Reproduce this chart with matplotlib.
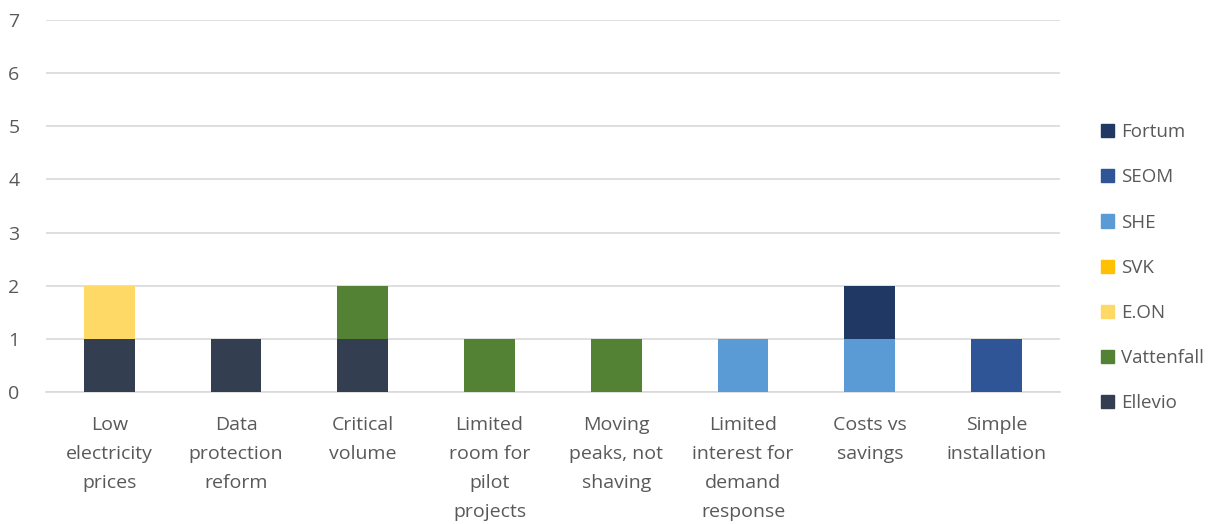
import matplotlib.pyplot as plt
from matplotlib.patches import Patch
import numpy as np

categories = ["Low\nelectricity\nprices", "Data\nprotection\nreform", "Critical\nvolume",
              "Limited\nroom for\npilot\nprojects", "Moving\npeaks, not\nshaving",
              "Limited\ninterest for\ndemand\nresponse", "Costs vs\nsavings", "Simple\ninstallation"]

series = ["Ellevio", "Vattenfall", "E.ON", "SVK", "SHE", "SEOM", "Fortum"]
ellevio    = [1, 1, 1, 0, 0, 0, 0, 0]
vattenfall = [0, 0, 1, 1, 1, 0, 0, 0]
eon        = [1, 0, 0, 0, 0, 0, 0, 0]
svk        = [0, 0, 0, 0, 0, 0, 0, 0]
she        = [0, 0, 0, 0, 0, 1, 1, 0]
seom       = [0, 0, 0, 0, 0, 0, 0, 1]
fortum     = [0, 0, 0, 0, 0, 0, 1, 0]

colors = ["#333F50", "#548235", "#FFD966", "#FFC000", "#5B9BD5", "#2F5597", "#203864"]
text_col = "#595959"

plt.rcParams['font.family'] = ['Open Sans', 'DejaVu Sans']

fig = plt.figure(figsize=(12.26, 5.24), dpi=100)
ax = fig.add_axes([0.0375, 0.252, 0.827, 0.71])

x = np.arange(len(categories))
bottom = np.zeros(len(categories))
for name, vals, c in zip(series, [ellevio, vattenfall, eon, svk, she, seom, fortum], colors):
    vals = np.array(vals, dtype=float)
    ax.bar(x, vals, width=0.4, bottom=bottom, color=c, zorder=3)
    bottom += vals

ax.set_xlim(-0.5, len(categories) - 0.5)
ax.set_ylim(0, 7)
ax.set_yticks(range(8))
ax.yaxis.grid(True, color="#D9D9D9", linewidth=1.2, zorder=0)
for s in ["top", "right", "left"]:
    ax.spines[s].set_visible(False)
ax.spines["bottom"].set_color("#D9D9D9")
ax.spines["bottom"].set_linewidth(1.2)
ax.set_xticks(x)
ax.set_xticklabels(categories, linespacing=1.8, va="top")
ax.tick_params(axis="both", length=0, labelsize=14, colors=text_col)
ax.tick_params(axis="x", pad=17)
ax.tick_params(axis="y", pad=19)

handles = [Patch(color=c, label=n) for n, c in zip(series, colors)][::-1]
fig.legend(handles=handles, loc="center left", bbox_to_anchor=(0.884, 0.489),
           frameon=False, fontsize=13.5, labelcolor=text_col,
           handlelength=0.7, handleheight=0.7, handletextpad=0.4, labelspacing=1.45)

fig.savefig("out.png", dpi=100)
